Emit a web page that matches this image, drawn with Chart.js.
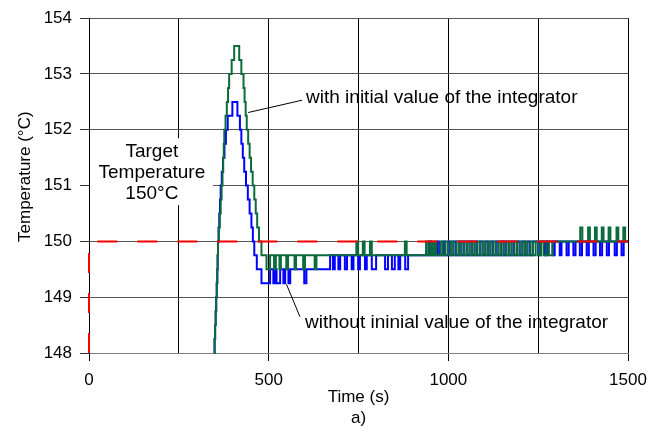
<!DOCTYPE html>
<html>
<head>
<meta charset="utf-8">
<script src="https://cdn.jsdelivr.net/npm/chart.js@4/dist/chart.umd.min.js"></script>
<style>
  html, body { margin: 0; padding: 0; background: #fff; }
  #wrap { width: 664px; height: 435px; }
</style>
</head>
<body>
<div id="wrap"><canvas id="chart" width="664" height="435"></canvas></div>
<script>
// step change points [time s, temperature °C]
const greenSteps = [
  [348,148],[349.5,148.25],[351,148.5],[352.5,148.75],[354,149],[355.5,149.25],[357,149.5],[358,149.75],[359,150],
  [361.5,150.25],[364,150.5],[366.5,150.75],[369,151],[371.5,151.25],[373.5,151.5],[375,151.75],[376.5,152],
  [380,152.25],[383.5,152.5],[387,152.75],[390,153],[397,153.25],[404,153.5],
  [418,153.25],[424,153],[430,152.75],[433,152.5],[436,152.25],[439,152],[443,151.75],[447,151.5],[451,151.25],[455.5,151],
  [460,150.75],[464,150.5],[468,150.25],[473,150],[480,149.75],
  [494,149.5],[504,149.75],[515,149.5],[520,149.75],[530,149.5],[534,149.75],[549,149.5],[554,149.75],
  [572,149.5],[576,149.75],[596,149.5],[601,149.75],[628,149.5],[633,149.75],
  [744,150],[749,149.75],[762,150],[767,149.75],[782,150],[787,149.75],[879,150],[884,149.75],
  [938,150],[944,149.75],[951,150],[956,149.75],[961,150],[966,149.75],[978,150],[984,149.75],
  [992,150],[999,149.75],[1007,150],[1014,149.75],[1022,150],[1029,149.75],[1037,150],[1044,149.75],
  [1052,150],[1059,149.75],[1066,150],[1073,149.75],[1081,150],[1088,149.75],[1096,150],[1103,149.75],
  [1110,150],[1117,149.75],[1125,150],[1132,149.75],[1140,150],[1147,149.75],[1154,150],[1161,149.75],
  [1169,150],[1176,149.75],[1184,150],[1191,149.75],[1199,150],[1206,149.75],[1213,150],[1220,149.75],
  [1228,150],[1235,149.75],[1243,150],[1250,149.75],[1258,150],[1265,149.75],[1273,150],[1280,149.75],
  [1290,150],
  [1367,150.25],[1373,150],[1389,150.25],[1394,150],[1408,150.25],[1413,150],[1427,150.25],[1432,150],
  [1446,150.25],[1451,150],[1468,150.25],[1473,150],[1487,150.25],[1492,150],[1500,150]
];

const blueSteps = [
  [348,148],[349.5,148.25],[351,148.5],[352.5,148.75],[354,149],[355.5,149.25],[357,149.5],[358,149.75],[359,150],
  [360.5,150.25],[362.5,150.5],[364.5,150.75],[366.5,151],[369.5,151.25],[373,151.5],[377,151.75],[381,152],
  [386,152.25],[399,152.5],[413,152.25],[420,152],[424,151.75],[428,151.5],[432,151.25],[437,151],
  [442,150.75],[447,150.5],[452,150.25],[456,150],[460,149.75],[467,149.5],[480,149.25],
  [504,149.5],[513,149.25],[518,149.5],[522,149.25],[532,149.5],[541,149.25],[546,149.5],[555,149.25],[560,149.5],
  [599,149.25],[605,149.5],
  [671,149.75],[679,149.5],[684,149.75],[694,149.5],[699,149.75],[712,149.5],[718,149.75],[731,149.5],[736,149.75],
  [749,149.5],[754,149.75],[768,149.5],[773,149.75],[787,149.5],[799,149.75],[824,149.5],[832,149.75],
  [843,149.5],[851,149.75],[861,149.5],[866,149.75],[880,149.5],[888,149.75],
  [946,150],[952,149.75],[969,150],[975,149.75],[985,150],[991,149.75],[1000,150],[1006,149.75],
  [1014,150],[1021,149.75],[1029,150],[1036,149.75],[1044,150],[1051,149.75],[1059,150],[1066,149.75],
  [1073,150],[1080,149.75],[1088,150],[1095,149.75],[1103,150],[1110,149.75],[1117,150],[1124,149.75],
  [1132,150],[1139,149.75],[1147,150],[1154,149.75],[1161,150],[1168,149.75],[1176,150],[1183,149.75],
  [1191,150],[1198,149.75],[1206,150],[1213,149.75],[1220,150],[1227,149.75],[1235,150],
  [1250,149.75],[1256,150],[1269,149.75],[1275,150],[1290,149.75],[1296,150],[1310,149.75],[1315,150],
  [1329,149.75],[1335,150],[1348,149.75],[1354,150],[1366,149.75],[1372,150],[1385,149.75],[1391,150],
  [1404,149.75],[1410,150],[1422,149.75],[1428,150],[1441,149.75],[1447,150],[1463,149.75],[1469,150],
  [1482,149.75],[1488,150],[1500,150]
];

const targetTime = [0, 0, 1500];
const targetTemp = [148, 150, 150];

const xMin = 0, xMax = 1500, xGrid = 250, xLabelEvery = 500;
const yMin = 148, yMax = 154, yStep = 1;

const yTitle = 'Temperature (°C)';
const targetText = ['Target', 'Temperature', '150°C'];
const withText = 'with initial value of the integrator';
const withoutText = 'without ininial value of the integrator';

const FONT = 'Arial, "Liberation Sans", sans-serif';

const toXY = steps => steps.map(p => ({ x: p[0], y: p[1] }));

const notes = {
  id: 'notes',
  beforeDatasetsDraw(chart) {
    // white box behind the target label, hides the grid
    const { ctx, scales: { x, y } } = chart;
    ctx.save();
    ctx.fillStyle = '#fff';
    const l = x.getPixelForValue(0) + 1, r = x.getPixelForValue(345);
    const t = y.getPixelForValue(151.85), b = y.getPixelForValue(150.65);
    ctx.fillRect(l, t, r - l, b - t);
    ctx.restore();
  },
  afterDatasetsDraw(chart) {
    const { ctx, scales: { x, y } } = chart;
    ctx.save();
    ctx.fillStyle = '#000';
    ctx.font = '19px ' + FONT;
    ctx.textBaseline = 'middle';

    ctx.textAlign = 'center';
    const cx = x.getPixelForValue(175);
    const y0 = y.getPixelForValue(151.6);
    targetText.forEach((s, i) => ctx.fillText(s, cx, y0 + i * 21));

    ctx.textAlign = 'left';
    ctx.fillText(withText, x.getPixelForValue(604), y.getPixelForValue(152.57));
    ctx.fillText(withoutText, x.getPixelForValue(601), y.getPixelForValue(148.55));

    ctx.strokeStyle = '#000';
    ctx.lineWidth = 1;
    ctx.beginPath();
    ctx.moveTo(x.getPixelForValue(593), y.getPixelForValue(152.53));
    ctx.lineTo(x.getPixelForValue(443), y.getPixelForValue(152.31));
    ctx.moveTo(x.getPixelForValue(549.6), y.getPixelForValue(149.23));
    ctx.lineTo(x.getPixelForValue(587), y.getPixelForValue(148.65));
    ctx.stroke();

    // y axis title, a little above the middle as in the original
    ctx.font = '17px ' + FONT;
    ctx.textAlign = 'center';
    ctx.translate(25, y.getPixelForValue(151.16));
    ctx.rotate(-Math.PI / 2);
    ctx.fillText(yTitle, 0, 0);
    ctx.restore();
  }
};

new Chart(document.getElementById('chart'), {
  type: 'line',
  data: {
    datasets: [
      {
        label: 'Target',
        data: targetTime.map((t, i) => ({ x: t, y: targetTemp[i] })),
        borderColor: '#ff0000',
        borderWidth: 2,
        borderDash: [20, 20],
        pointRadius: 0,
        clip: 2
      },
      {
        label: 'with initial value',
        data: toXY(greenSteps),
        borderColor: '#0b6b3a',
        borderWidth: 2,
        stepped: 'before',
        pointRadius: 0,
        clip: 2
      },
      {
        label: 'without initial value',
        data: toXY(blueSteps),
        borderColor: '#0000ff',
        borderWidth: 2,
        stepped: 'before',
        pointRadius: 0,
        clip: 2
      }
    ]
  },
  options: {
    responsive: false,
    animation: false,
    events: [],
    layout: { padding: { top: 17, right: 36, left: 0, bottom: 0 } },
    plugins: { legend: { display: false }, tooltip: { enabled: false } },
    scales: {
      x: {
        type: 'linear',
        min: xMin,
        max: xMax,
        afterFit: s => { s.height = 82; },
        border: { color: '#808080', width: 1 },
        grid: {
          color: '#000',
          tickLength: 8,
          tickColor: c => (c.tick && c.tick.value % xLabelEvery === 0) ? '#000' : 'rgba(0,0,0,0)'
        },
        ticks: {
          stepSize: xGrid,
          autoSkip: false,
          maxRotation: 0,
          padding: 9,
          color: '#000',
          font: { family: FONT, size: 17 },
          callback: v => (v % xLabelEvery === 0 ? v : '')
        },
        title: {
          display: true,
          text: ['Time (s)', 'a)'],
          color: '#000',
          font: { family: FONT, size: 17, lineHeight: '21px' },
          padding: { top: 0, bottom: 6 }
        }
      },
      y: {
        min: yMin,
        max: yMax,
        afterFit: s => { s.width = 89; },
        border: { color: '#000', width: 1 },
        grid: {
          color: c => (c.tick && c.tick.value === yMin) ? '#808080' : '#555',
          tickLength: 9,
          tickColor: '#333'
        },
        ticks: {
          stepSize: yStep,
          padding: 8,
          color: '#000',
          font: { family: FONT, size: 17 }
        },
        title: { display: false }
      }
    }
  },
  plugins: [notes]
});
</script>
</body>
</html>
